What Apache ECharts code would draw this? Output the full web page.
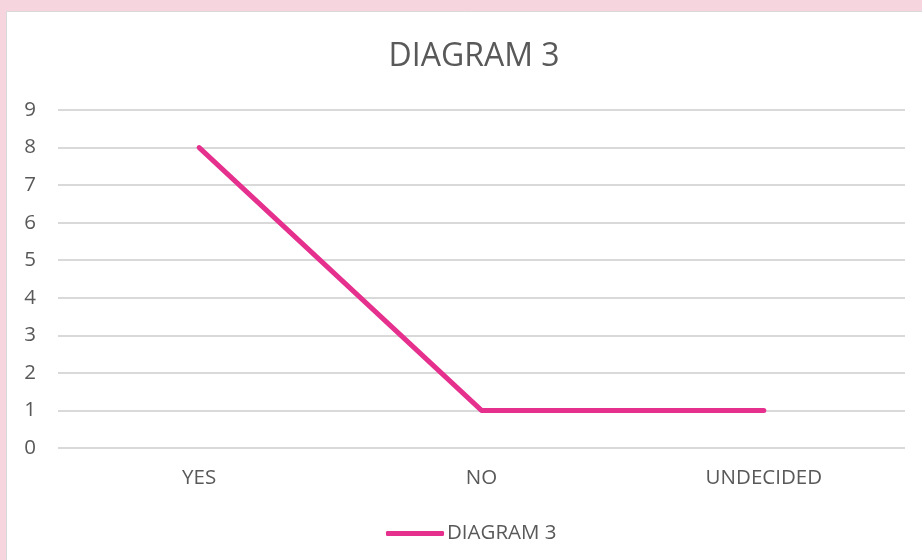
<!DOCTYPE html>
<html><head><meta charset="utf-8">
<script src="https://cdn.jsdelivr.net/npm/echarts@6/dist/echarts.min.js"></script>
<style>html,body{margin:0;padding:0;background:#F6D5DE;}#c{width:922px;height:560px;}</style>
</head><body><div id="c"></div>
<script>
const categories = ['YES', 'NO', 'UNDECIDED'];
const seriesName = 'DIAGRAM 3';
const values = [8, 1, 1];
const titleText = 'DIAGRAM 3';

const chart = echarts.init(document.getElementById('c'), null, {renderer: 'canvas'});
const font = '"Open Sans", "Noto Sans", sans-serif';
chart.setOption({
  backgroundColor: '#F6D5DE',
  animation: false,
  graphic: [{
    type: 'rect', z: -10, silent: true,
    shape: {x: 6.5, y: 11.5, width: 930, height: 560},
    style: {fill: '#ffffff', stroke: '#D9D9D9', lineWidth: 1}
  }],
  title: {
    text: titleText, left: 469, top: 36, textAlign: 'center',
    textStyle: {fontFamily: font, fontSize: 32, fontWeight: 'normal', color: '#595959'}
  },
  legend: {
    data: [{name: seriesName, icon: 'roundRect'}],
    left: 381, bottom: 11,
    itemWidth: 58, itemHeight: 5, itemGap: 4,
    textStyle: {fontFamily: font, fontSize: 20.5, color: '#595959', padding: [0, 0, 0, -2]}
  },
  grid: {left: 58, right: 17, top: 110, bottom: 112},
  xAxis: {
    type: 'category', data: categories, boundaryGap: true,
    axisLine: {show: false}, axisTick: {show: false},
    axisLabel: {fontFamily: font, fontSize: 20.5, color: '#595959', margin: 20}
  },
  yAxis: {
    type: 'value', min: 0, max: 9, interval: 1,
    axisLine: {show: false}, axisTick: {show: false},
    axisLabel: {fontFamily: font, fontSize: 20.5, color: '#595959', margin: 22},
    splitLine: {lineStyle: {color: '#D9D9D9', width: 2}}
  },
  series: [{
    name: seriesName, type: 'line', data: values,
    symbol: 'none',
    lineStyle: {color: '#E5308E', width: 5, cap: 'round', join: 'round'},
    itemStyle: {color: '#E5308E'}
  }]
});
</script></body></html>
